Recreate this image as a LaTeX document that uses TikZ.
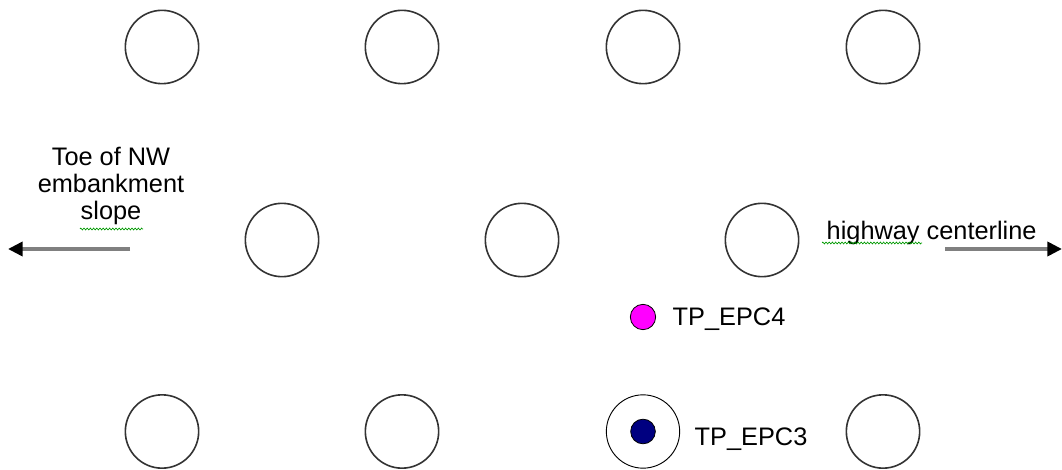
\documentclass[tikz,border=0pt]{standalone}
\usepackage{fontspec}
\setmainfont{Liberation Sans}
\usepackage{tikz}
\usetikzlibrary{arrows.meta, positioning, calc, decorations.pathmorphing}
\definecolor{pontorosa}{RGB}{255,0,255}
\definecolor{pontoazul}{RGB}{0,0,128}

\begin{document}
\begin{tikzpicture}[x=0.75pt,y=-0.75pt,
    font=\fontsize{19}{20.3}\selectfont,
    pilecol/.style={circle,draw=black!80,line width=1.2pt,minimum size=55pt,inner sep=0},
    furo/.style={circle,draw=black,line width=0.6pt,inner sep=0},
    seta/.style={draw=gray,line width=2.7pt,-{Triangle[length=11pt,width=10.5pt,black]}},
    sublinha/.style={draw=green!60!black,line width=0.5pt,
      decorate,decoration={zigzag,segment length=2.4pt,amplitude=0.7pt}}]

  \useasboundingbox (0,0) rectangle (1062,470);

  % linhas de estacas
  \foreach \n/\x in {1/162,2/402,3/643,4/883} \node[pilecol] (t\n) at (\x,47) {};
  \foreach \n/\x in {1/282,2/522,3/762} \node[pilecol] (m\n) at (\x,240) {};
  \foreach \n/\x in {1/162,2/402,4/883} \node[pilecol] (b\n) at (\x,431.5) {};
  \node[pilecol,line width=0.7pt,draw=black] (b3) at (643,431.5) {};

  % pontos de ensaio
  \node[furo,fill=pontorosa,minimum size=19pt] (epc4) at (643,317) {};
  \node[furo,fill=pontoazul,minimum size=18.5pt] (epc3) at (b3.center) {};
  \node[anchor=base west] (epc4lbl) at (668,325) {TP\_EPC4};
  \node[anchor=base west] (epc3lbl) at (690,445) {TP\_EPC3};

  % direções
  \node[align=center] (toe) at (111,186) {Toe of NW\\embankment\\slope};
  \node[anchor=base west] (hwy) at (822,239) {highway centerline};
  \coordinate (toeA) at (130,249);
  \coordinate (toeB) at (8,249);
  \coordinate (hwyA) at (945,249);
  \coordinate (hwyB) at (1062,249);
  \draw[seta] (toeA) -- (toeB);
  \draw[seta] (hwyA) -- (hwyB);

  % sublinhado do corretor
  \draw[sublinha] (80,229) -- (143,229);
  \draw[sublinha] ($(hwy.base west)+(0,4)$) -- ($(hwy.base west)+(100,4)$);
\end{tikzpicture}
\end{document}
